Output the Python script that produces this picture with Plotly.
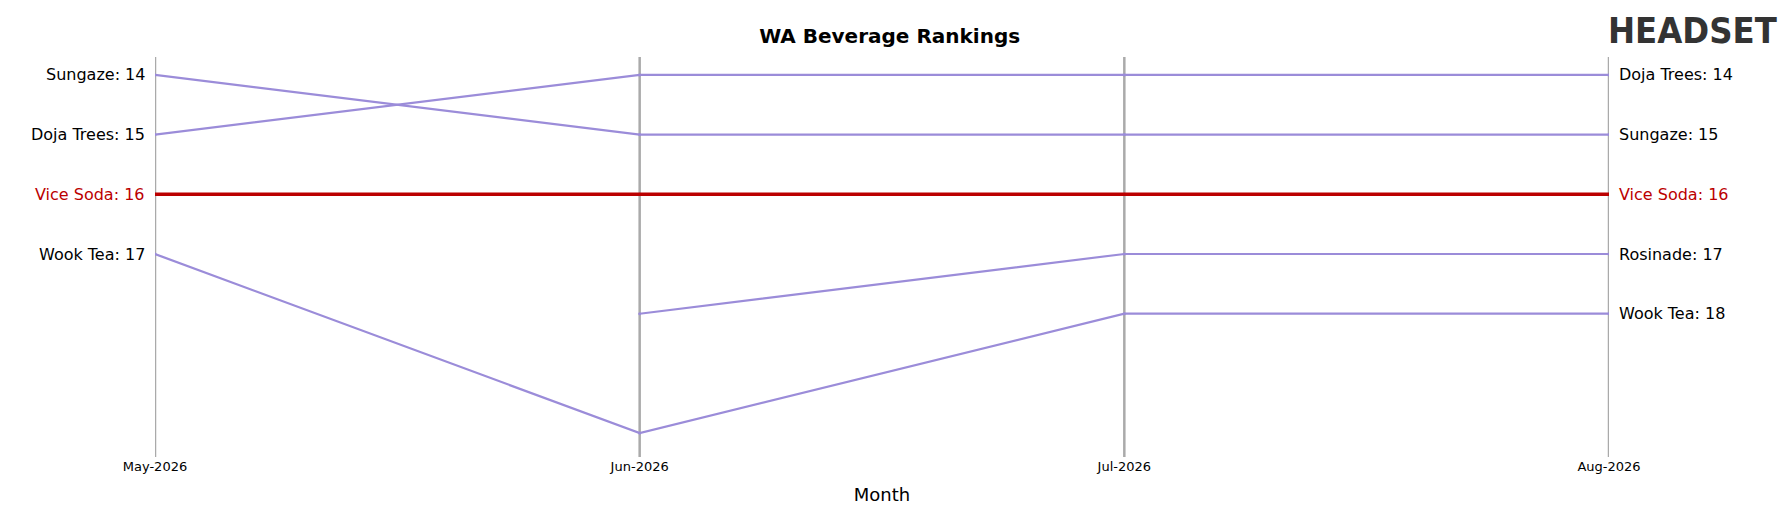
import plotly.graph_objects as go

months = ["May-2026", "Jun-2026", "Jul-2026", "Aug-2026"]
brands = ["Sungaze", "Doja Trees", "Vice Soda", "Wook Tea", "Rosinade"]
ranks = {
    "Sungaze": [14, 15, 15, 15],
    "Doja Trees": [15, 14, 14, 14],
    "Vice Soda": [16, 16, 16, 16],
    "Wook Tea": [17, 20, 18, 18],
    "Rosinade": [None, 18, 17, 17],
}
highlight = "Vice Soda"

fig = go.Figure()
for m in months:
    fig.add_trace(go.Scatter(x=[m, m], y=[13.7, 20.4], mode="lines",
                             line=dict(color="#aaaaaa", width=2.5), showlegend=False, hoverinfo="skip"))
for b in brands:
    hl = b == highlight
    fig.add_trace(go.Scatter(x=months, y=ranks[b], mode="lines+markers", name=b,
                             line=dict(color="#bb0000" if hl else "#9b8cd9", width=3.5 if hl else 2.2),
                             marker=dict(size=3, color="#bb0000" if hl else "#9b8cd9"),
                             showlegend=False))
    first = next((i for i, v in enumerate(ranks[b]) if v is not None), None)
    if first == 0:
        fig.add_annotation(x=months[0], y=ranks[b][0], text=f"{b}: {ranks[b][0]}", xanchor="right",
                           xshift=-8, showarrow=False,
                           font=dict(size=16, color="#bb0000" if hl else "black"))
    last = ranks[b][-1]
    if last is not None:
        fig.add_annotation(x=months[-1], y=last, text=f"{b}: {last}", xanchor="left",
                           xshift=8, showarrow=False,
                           font=dict(size=16, color="#bb0000" if hl else "black"))

fig.add_annotation(xref="paper", yref="paper", x=1.116, y=1.12, xanchor="right", yanchor="top",
                   text="<b>HEADSET</b>", showarrow=False, borderpad=0,
                   font=dict(size=36, color="#333333", family="DejaVu Sans Condensed, Liberation Sans Narrow"))

fig.update_layout(
    width=1792, height=506,
    margin=dict(l=147, r=191, t=49, b=52),
    plot_bgcolor="white", paper_bgcolor="white",
    title=dict(text="<b>WA Beverage Rankings</b>", x=0.492, y=0.945, xanchor="center", yanchor="middle",
               font=dict(size=20, color="black", family="DejaVu Sans")),
    font=dict(family="DejaVu Sans", color="black"),
    xaxis=dict(type="category", range=[0, 3], showgrid=False, zeroline=False,
               title=dict(text="Month", font=dict(size=18)), tickfont=dict(size=13),
               ticks="", showline=False),
    yaxis=dict(range=[20.4, 13.7], visible=False),
)
fig.write_html("out.html")
